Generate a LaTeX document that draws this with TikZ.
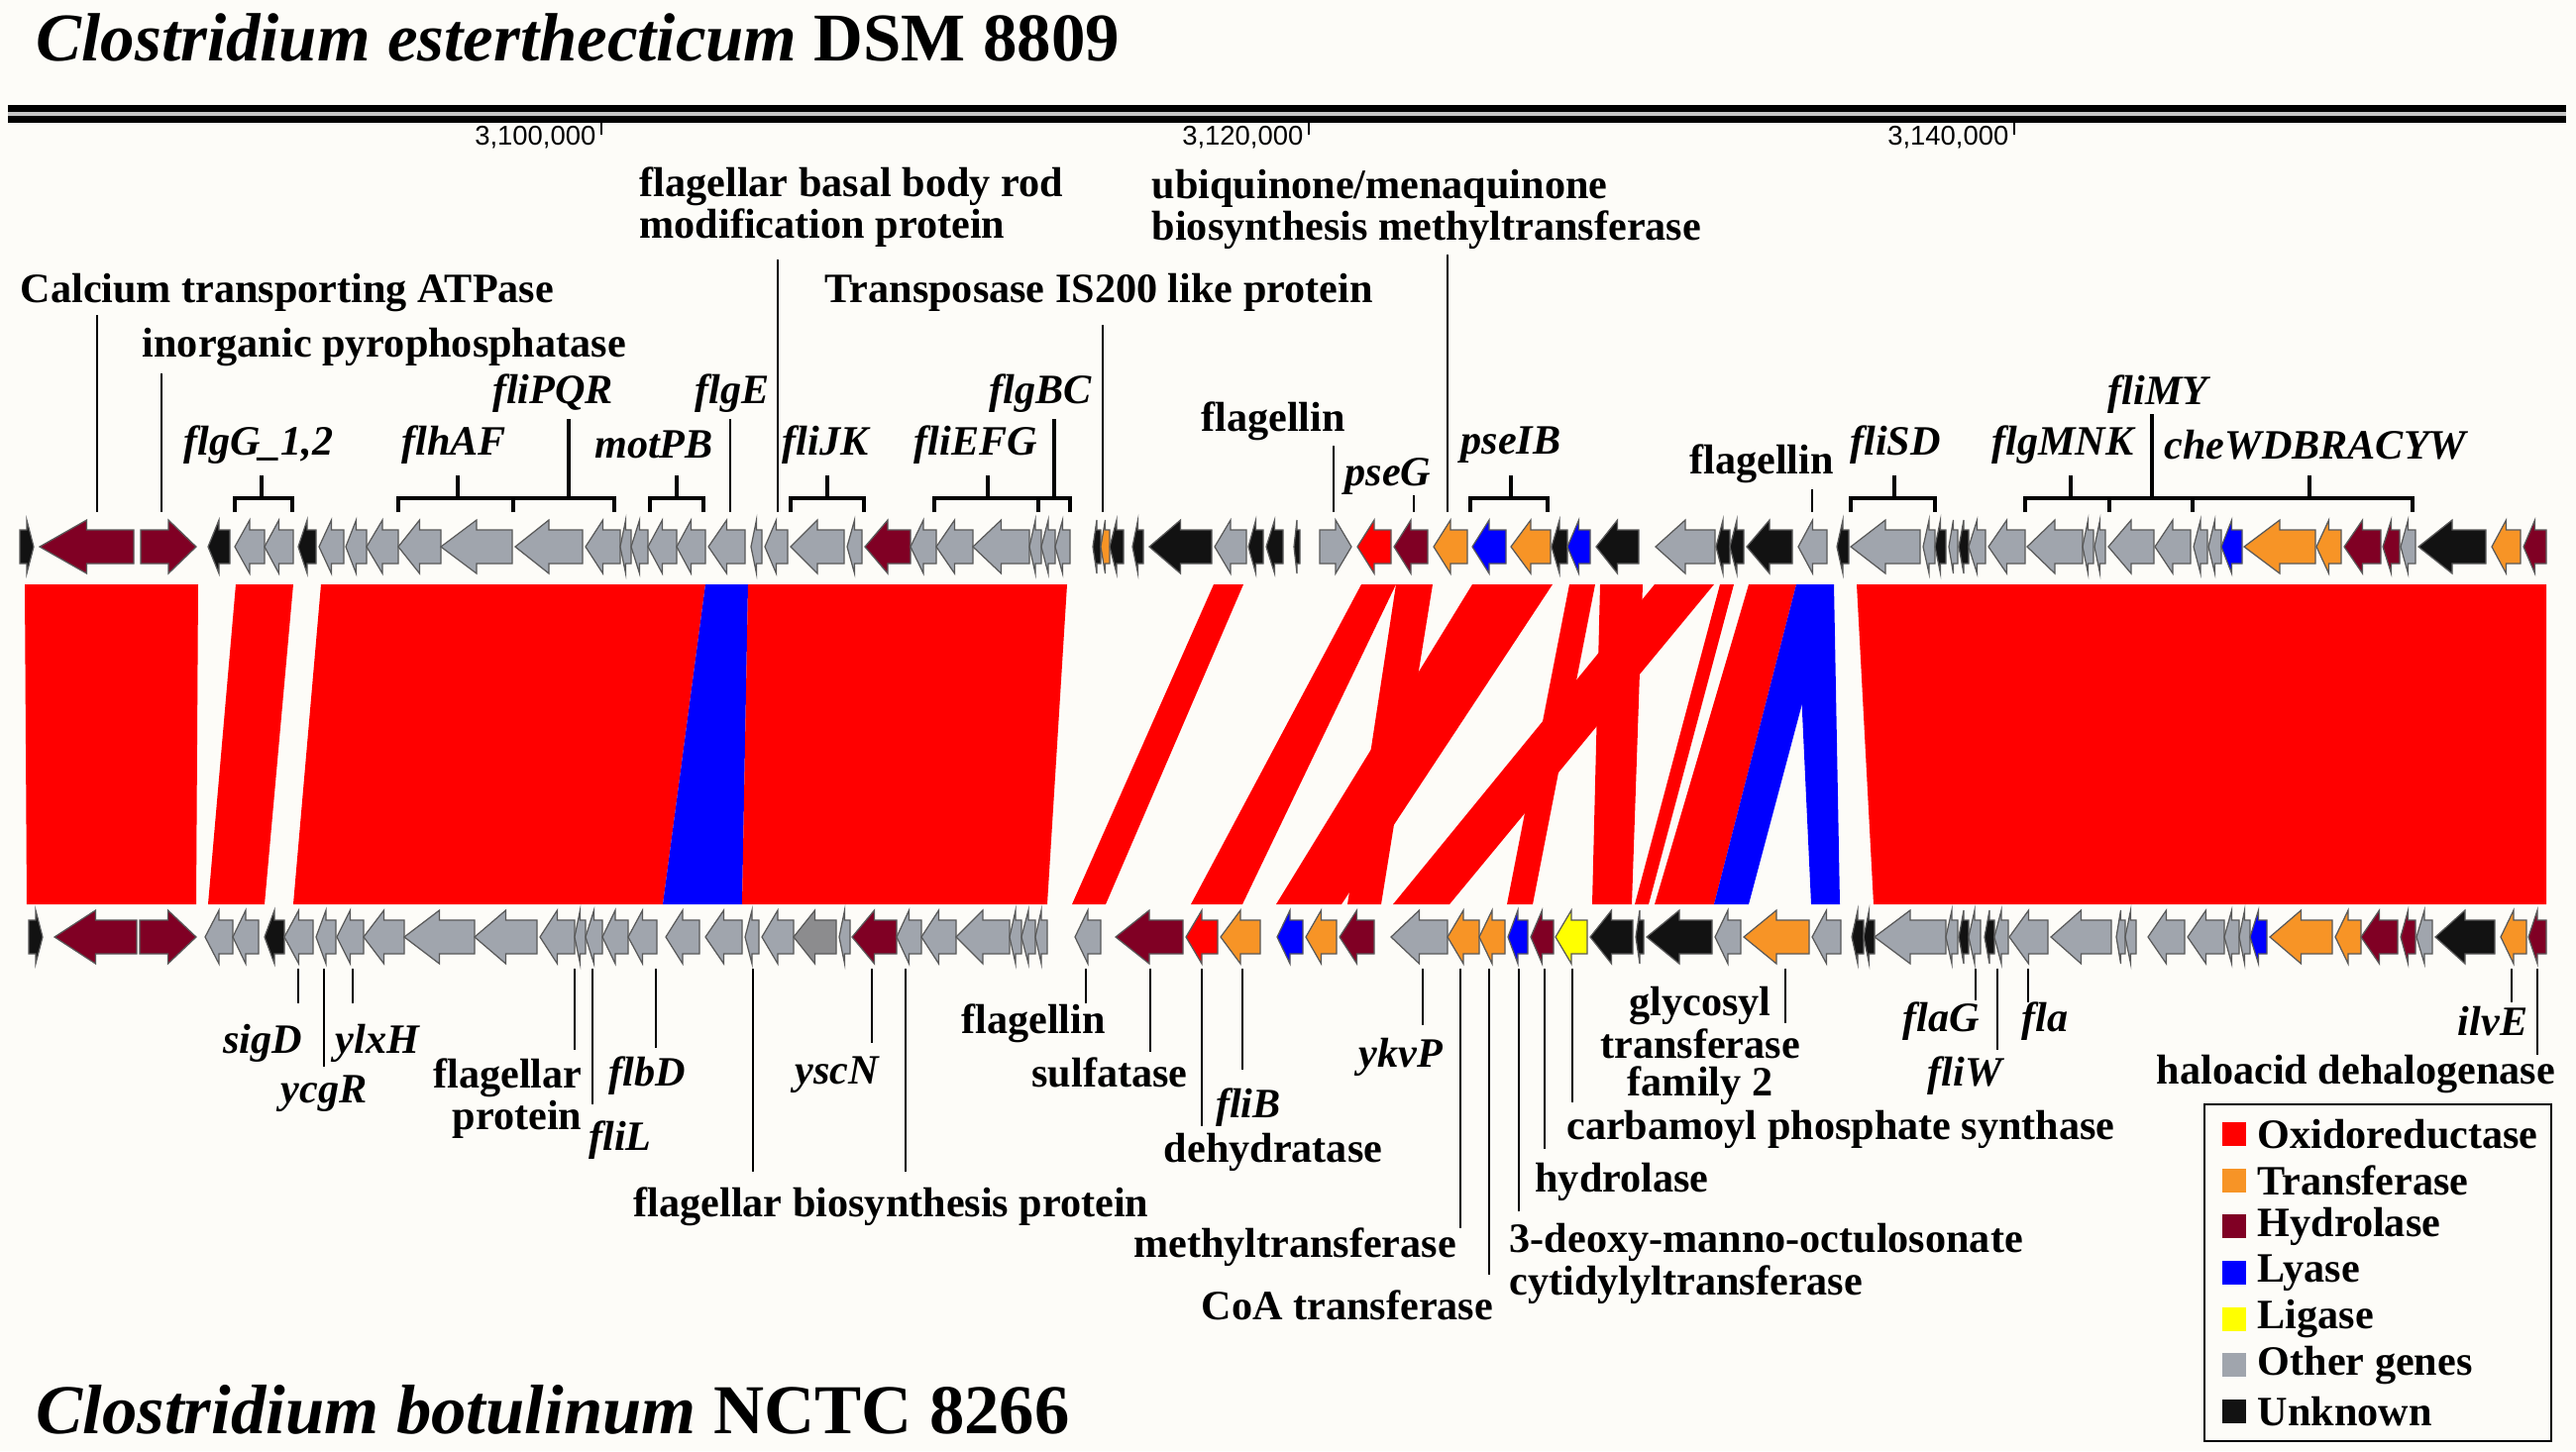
\documentclass[tikz,border=0pt]{standalone}
\usepackage{fontspec}
\setmainfont{Liberation Serif}
\newfontfamily\tickfont{Liberation Sans}
\usepackage{xcolor}
\usepackage{tikz}
\usetikzlibrary{positioning}

\definecolor{paper}{RGB}{253,252,248}
\definecolor{coxi}{RGB}{255,0,0}
\definecolor{ctra}{RGB}{247,148,38}
\definecolor{chyd}{RGB}{128,0,36}
\definecolor{clya}{RGB}{0,0,255}
\definecolor{clig}{RGB}{255,255,0}
\definecolor{coth}{RGB}{160,165,173}
\definecolor{cdrk}{RGB}{140,140,142}
\definecolor{cunk}{RGB}{18,18,18}

\newcommand{\labfont}{\fontsize{12}{10.8}\selectfont\bfseries}

% gene arrow pointing left: track y, tip x, tail x, colour
\newcommand{\geneL}[4]{%
  \pgfmathsetmacro\hx{#2+0.5*(#3-#2)}%
  \filldraw[gene, fill=#4] (#2,#1) -- (\hx,#1-27) -- (\hx,#1-17) -- (#3,#1-17)
    -- (#3,#1+17) -- (\hx,#1+17) -- (\hx,#1+27) -- cycle;}
% gene arrow pointing right: track y, tail x, tip x, colour
\newcommand{\geneR}[4]{%
  \pgfmathsetmacro\hx{#3-0.5*(#3-#2)}%
  \filldraw[gene, fill=#4] (#3,#1) -- (\hx,#1-27) -- (\hx,#1-17) -- (#2,#1-17)
    -- (#2,#1+17) -- (\hx,#1+17) -- (\hx,#1+27) -- cycle;}
% bracket over a gene cluster: left x, right x, tick x, tick top
\newcommand{\cluster}[4]{%
  \draw[brk] (#1,517) -- (#1,503) -- (#2,503) -- (#2,517);
  \draw[brk] (#3,503) -- (#3,#4);}

\begin{document}
\begin{tikzpicture}[x=0.01cm, y=-0.01cm,
    gene/.style={draw=black!65, line width=0.35pt},
    stem/.style={line width=0.75pt},
    brk/.style={line width=1.1pt},
    lab/.style={font=\labfont, inner sep=0pt},
    glab/.style={font=\labfont\itshape, inner sep=0pt},
    title/.style={font=\fontsize{19.6}{22}\selectfont\bfseries, inner sep=0pt, anchor=west},
    ticklab/.style={font=\tickfont\fontsize{7.8}{9}\selectfont, inner sep=0pt, anchor=east}
]
    \fill[paper] (0,0) rectangle (2600,1465);
    \useasboundingbox (0,0) rectangle (2600,1465);

    % === Titles and ruler ===
    \node[title] (ttop) at (36,38) {\textit{Clostridium esterthecticum} DSM 8809};
    \node[title, font=\fontsize{20.1}{22}\selectfont\bfseries] (tbot) at (36,1423) {\textit{Clostridium botulinum} NCTC 8266};

    \fill[black] (8,106) rectangle (2590,124);
    \draw[gray!45, line width=1.2pt] (8,115) -- (2590,115);
    \foreach \tx/\tt in {607/{3,100,000}, 1321/{3,120,000}, 2033/{3,140,000}} {
        \draw[line width=0.5pt] (\tx,124) -- (\tx,136);
        \node[ticklab] at (\tx-5,139) {\tt};
    }

    % === Synteny bands ===
    \foreach \tl/\tr/\bl/\br/\c in {25/200/27/198/coxi, 238/296/210/267/coxi,
        324/712/296/669/coxi, 712/755/669/749/clya, 755/1077/749/1057/coxi,
        1225/1255/1082/1116/coxi, 1374/1409/1202/1254/coxi, 1409/1446/1360/1394/coxi,
        1486/1567/1288/1354/coxi, 1584/1610/1521/1547/coxi, 1615/1658/1607/1647/coxi,
        1670/1730/1406/1463/coxi, 1736/1750/1650/1664/coxi, 1765/1813/1670/1730/coxi,
        1813/1851/1730/1765/clya, 1813/1851/1828/1857/clya, 1874/2570/1891/2570/coxi} {
        \fill[\c] (\tl,590) -- (\tr,590) -- (\br,913) -- (\bl,913) -- cycle;
    }

    % === Top track: C. esterthecticum ===
    \geneR{552}{20}{34}{cunk}
    \geneR{552}{142}{198}{chyd}
    \geneR{552}{1332}{1364}{coth}
    \foreach \a/\b/\c in {40/135/chyd, 210/232/cunk, 237/267/coth, 267/296/coth, 301/319/cunk,
        322/347/coth, 349/370/coth, 370/402/coth, 402/445/coth, 445/517/coth, 520/588/coth,
        591/626/coth, 626/637/coth, 637/654/coth, 654/683/coth, 683/712/coth, 715/752/coth,
        758/769/coth, 772/795/coth, 798/852/coth, 855/870/coth, 873/919/chyd, 919/945/coth,
        945/982/coth, 982/1039/coth, 1039/1051/coth, 1051/1065/coth, 1065/1080/coth,
        1103/1111/cunk, 1111/1120/ctra, 1120/1134/cunk, 1143/1154/cunk, 1160/1223/cunk,
        1226/1258/coth, 1260/1275/cunk, 1278/1295/cunk, 1306/1312/cunk,
        1370/1404/coxi, 1407/1441/chyd, 1447/1481/ctra, 1486/1520/clya, 1525/1565/ctra,
        1566/1582/cunk, 1582/1605/clya, 1611/1654/cunk, 1671/1731/coth, 1732/1746/cunk,
        1746/1760/cunk, 1763/1809/cunk, 1815/1844/coth, 1854/1866/cunk, 1868/1938/coth,
        1941/1953/coth, 1953/1964/cunk, 1967/1976/coth, 1977/1987/cunk, 1987/2004/coth,
        2007/2044/coth, 2046/2102/coth, 2102/2113/coth, 2114/2125/coth, 2128/2174/coth,
        2175/2211/coth, 2214/2228/coth, 2229/2242/coth, 2242/2263/clya, 2265/2337/ctra,
        2338/2363/ctra, 2366/2403/chyd, 2405/2422/chyd, 2423/2438/coth, 2441/2509/cunk,
        2515/2544/ctra, 2547/2570/chyd} {
        \geneL{552}{\a}{\b}{\c}
    }

    % === Bottom track: C. botulinum ===
    \geneR{946}{29}{43}{cunk}
    \geneR{946}{141}{198}{chyd}
    \foreach \a/\b/\c in {55/138/chyd, 207/235/coth, 235/261/coth, 267/287/cunk, 287/316/coth,
        319/339/coth, 340/367/coth, 367/408/coth, 408/479/coth, 479/542/coth, 545/580/coth,
        580/591/coth, 591/608/coth, 608/634/coth, 634/663/coth, 672/706/coth, 712/749/coth,
        752/766/coth, 769/801/coth, 801/844/cdrk, 847/858/coth, 860/905/chyd, 905/930/coth,
        930/965/coth, 965/1019/coth, 1019/1031/coth, 1031/1045/coth, 1045/1057/coth,
        1085/1111/coth, 1126/1194/chyd, 1197/1229/coxi, 1232/1272/ctra, 1289/1315/clya,
        1318/1349/ctra, 1352/1387/chyd, 1404/1461/coth, 1461/1493/ctra, 1493/1519/ctra,
        1522/1542/clya, 1545/1568/chyd, 1570/1602/clig, 1605/1648/cunk, 1651/1659/cunk,
        1662/1728/cunk, 1731/1757/coth, 1760/1826/ctra, 1829/1858/coth, 1869/1881/cunk,
        1881/1892/cunk, 1892/1964/coth, 1964/1976/coth, 1977/1987/cunk, 1987/1999/coth,
        2003/2013/cunk, 2013/2027/coth, 2028/2067/coth, 2070/2131/coth, 2136/2145/coth,
        2145/2156/coth, 2168/2205/coth, 2208/2245/coth, 2245/2260/coth, 2260/2271/coth,
        2271/2288/clya, 2291/2354/ctra, 2357/2383/ctra, 2383/2420/chyd, 2423/2438/chyd,
        2439/2455/coth, 2458/2518/cunk, 2524/2550/ctra, 2552/2570/chyd} {
        \geneL{946}{\a}{\b}{\c}
    }

    % === Top labels ===
    \node[lab, anchor=west] (lcat) at (20,295) {Calcium transporting ATPase};
    \node[lab, anchor=west] (lppa) at (143,350) {inorganic pyrophosphatase};
    \node[glab] (lflgG) at (261,449) {flgG\_1,2};
    \node[glab] (lflhAF) at (458,449) {flhAF};
    \node[glab] (lfliPQR) at (558,397) {fliPQR};
    \node[glab] (lmotPB) at (660,449) {motPB};
    \node[glab] (lflgE) at (739,397) {flgE};
    \node[lab, anchor=west, align=left] (lrod) at (645,209) {flagellar basal body rod\\modification protein};
    \node[glab] (lfliJK) at (833,449) {fliJK};
    \node[glab] (lfliEFG) at (985,449) {fliEFG};
    \node[glab] (lflgBC) at (1050,397) {flgBC};
    \node[lab, anchor=west] (ltrans) at (832,295) {Transposase IS200 like protein};
    \node[lab] (lflaA) at (1285,425) {flagellin};
    \node[glab] (lpseG) at (1401,481) {pseG};
    \node[lab, anchor=west, align=left] (lubi) at (1162,211) {ubiquinone/menaquinone\\biosynthesis methyltransferase};
    \node[glab] (lpseIB) at (1525,449) {pseIB};
    \node[lab] (lflaB) at (1778,468) {flagellin};
    \node[glab] (lfliSD) at (1913,449) {fliSD};
    \node[glab] (lflgMNK) at (2082,449) {flgMNK};
    \node[glab] (lfliMY) at (2178,398) {fliMY};
    \node[glab] (lche) at (2337,449) {cheWDBRACYW};

    % stems and brackets, top
    \foreach \sx/\sy in {98/318, 163/377, 737/423, 785/262, 1113/328, 1346/450, 1427/500, 1461/257, 1829/494} {
        \draw[stem] (\sx,\sy) -- (\sx,517);
    }
    \cluster{237}{295}{264}{480}
    \cluster{402}{518}{462}{480}
    \cluster{518}{620}{574}{423}
    \cluster{656}{710}{683}{480}
    \cluster{798}{872}{835}{480}
    \cluster{943}{1048}{997}{480}
    \cluster{1048}{1080}{1064}{423}
    \cluster{1484}{1562}{1525}{480}
    \cluster{1868}{1953}{1912}{480}
    \cluster{2044}{2129}{2090}{480}
    \cluster{2129}{2213}{2172}{418}
    \cluster{2213}{2435}{2331}{480}

    % === Bottom labels ===
    \node[glab] (lsigD) at (265,1053) {sigD};
    \node[glab] (lycgR) at (327,1104) {ycgR};
    \node[glab] (lylxH) at (381,1053) {ylxH};
    \node[lab, anchor=east, align=right] (lflp) at (588,1109) {flagellar\\protein};
    \node[glab] (lflbD) at (653,1086) {flbD};
    \node[glab] (lfliL) at (626,1151) {fliL};
    \node[lab, anchor=west] (lfbp) at (639,1218) {flagellar biosynthesis protein};
    \node[glab] (lyscN) at (845,1085) {yscN};
    \node[lab] (lflaC) at (1043,1033) {flagellin};
    \node[lab] (lsulf) at (1120,1083) {sulfatase};
    \node[glab] (lfliB) at (1260,1118) {fliB};
    \node[lab] (ldehy) at (1285,1163) {dehydratase};
    \node[glab] (lykvP) at (1414,1067) {ykvP};
    \node[lab] (lmeth) at (1307,1259) {methyltransferase};
    \node[lab] (lcoa) at (1360,1318) {CoA transferase};
    \node[lab, anchor=west, align=left] (lkdo) at (1523,1276) {3-deoxy-manno-octulosonate\\cytidylyltransferase};
    \node[lab] (lhyd) at (1637,1193) {hydrolase};
    \node[lab] (lcps) at (1858,1140) {carbamoyl phosphate synthase};
    \node[lab, align=center] (lgly) at (1716,1056) {glycosyl\\transferase\\family 2};
    \node[glab] (lflaG) at (1959,1031) {flaG};
    \node[glab] (lfliW) at (1983,1086) {fliW};
    \node[glab] (lfla) at (2064,1031) {fla};
    \node[lab] (lhad) at (2378,1084) {haloacid dehalogenase};
    \node[glab] (lilvE) at (2516,1031) {ilvE};

    % stems, bottom
    \foreach \sx/\sy in {301/1013, 327/1077, 356/1013, 580/1060, 598/1115, 662/1058, 760/1183,
        880/1053, 914/1183, 1096/1013, 1161/1062, 1213/1137, 1254/1080, 1436/1035, 1474/1240,
        1503/1287, 1533/1223, 1559/1160, 1587/1113, 1802/1033, 1994/1010, 2016/1060,
        2047/1012, 2535/1012, 2561/1065} {
        \draw[stem] (\sx,978) -- (\sx,\sy);
    }

    % === Legend ===
    \draw[line width=0.6pt] (2225,1115) rectangle (2575,1455);
    \foreach \c/\t [count=\i] in {coxi/Oxidoreductase, ctra/Transferase, chyd/Hydrolase,
        clya/Lyase, clig/Ligase, coth/Other genes, cunk/Unknown} {
        \pgfmathsetmacro\yy{1145+46.67*(\i-1)}
        \fill[\c] (2243,\yy-12) rectangle (2267,\yy+12);
        \node[lab, anchor=west] (key\i) at (2278,\yy) {\t};
    }
\end{tikzpicture}
\end{document}
